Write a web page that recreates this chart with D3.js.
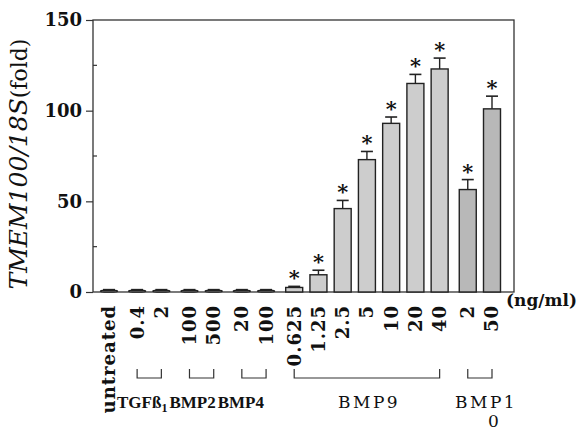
<!DOCTYPE html>
<html>
<head>
<meta charset="utf-8">
<title>TMEM100 fold</title>
<script src="https://d3js.org/d3.v7.min.js"></script>
<style>
  body { margin: 0; background: #fff; }
  text { font-family: "DejaVu Serif", serif; fill: #111; }
  text.grp { font-family: "Liberation Serif", serif; font-weight: bold; font-size: 17px; }
</style>
</head>
<body>
<script>
var w = 583, h = 438;

// data
var doses = ["untreated", "0.4", "2", "100", "500", "20", "100", "0.625", "1.25", "2.5", "5", "10", "20", "40", "2", "50"];
var groupOf = [0, 1, 1, 2, 2, 3, 3, 4, 4, 4, 4, 4, 4, 4, 5, 5];
var values = [1, 1, 1, 1, 1, 1, 1, 2.5, 9.5, 46, 73, 93, 115, 123, 56.5, 101];
var errors = [0.3, 0.3, 0.3, 0.3, 0.3, 0.3, 0.3, 0.6, 2.5, 4.5, 4.5, 3.5, 5, 6, 5.5, 7];
var signif = [0, 0, 0, 0, 0, 0, 0, 1, 1, 1, 1, 1, 1, 1, 1, 1];
var groups = [
  {name: "TGF\u00df", sub: "1", first: 1, last: 2},
  {name: "BMP2", first: 3, last: 4},
  {name: "BMP4", first: 5, last: 6},
  {name: "BMP9", first: 7, last: 13},
  {name: "BMP1", line2: "0", first: 14, last: 15}
];
var majorTicks = [0, 50, 100, 150];
var minorTicks = [25, 75, 125];

var svg = d3.select("body").append("svg")
  .attr("width", w)
  .attr("height", h);

var axLeft = 93, axRight = 514, axTop = 20, axBottom = 292;
var gap = 0.16;

var slot = function(i) { return i + groupOf[i] * gap; };
var xScale = d3.scaleLinear()
  .domain([0, slot(doses.length - 1)])
  .range([109, 492]);
var yScale = d3.scaleLinear()
  .domain([0, 150])
  .range([axBottom, axTop]);

var barW = 17;

// frame
svg.append("rect")
  .attr("x", axLeft).attr("y", axTop)
  .attr("width", axRight - axLeft).attr("height", axBottom - axTop)
  .attr("fill", "none").attr("stroke", "#333").attr("stroke-width", 1.3);

// y axis major ticks (outside)
var yAxis = d3.axisLeft(yScale)
  .tickValues(majorTicks)
  .tickSize(7)
  .tickPadding(4);
var yg = svg.append("g")
  .attr("transform", "translate(" + axLeft + ",0)")
  .call(yAxis);
yg.select(".domain").remove();
yg.selectAll("line").attr("stroke", "#333").attr("stroke-width", 1.2);
yg.selectAll("text")
  .attr("font-family", "DejaVu Serif")
  .attr("font-size", 18)
  .attr("font-weight", "bold")
  .attr("fill", "#111");

// minor ticks (inside)
svg.selectAll(".minor")
  .data(minorTicks)
  .enter()
  .append("line")
  .attr("x1", axLeft).attr("x2", axLeft + 4)
  .attr("y1", function(d) { return yScale(d); })
  .attr("y2", function(d) { return yScale(d); })
  .attr("stroke", "#333").attr("stroke-width", 1.2);

// bars
svg.selectAll(".bar")
  .data(values)
  .enter()
  .append("rect")
  .attr("x", function(d, i) { return xScale(slot(i)) - barW / 2; })
  .attr("y", function(d) { return yScale(d); })
  .attr("width", barW)
  .attr("height", function(d) { return axBottom - yScale(d); })
  .attr("rx", function(d) { return d < 2 ? 4 : 0; })
  .attr("fill", function(d, i) { return groupOf[i] == 5 ? "#b8b8b8" : "#cdcdcd"; })
  .attr("stroke", "#222")
  .attr("stroke-width", 1.4);

// error bars
values.forEach(function(v, i) {
  var cx = xScale(slot(i));
  var top = yScale(v + errors[i]);
  svg.append("line")
    .attr("x1", cx).attr("x2", cx)
    .attr("y1", yScale(v)).attr("y2", top)
    .attr("stroke", "#222").attr("stroke-width", 1.4);
  svg.append("line")
    .attr("x1", cx - 6).attr("x2", cx + 6)
    .attr("y1", top).attr("y2", top)
    .attr("stroke", "#222").attr("stroke-width", 1.6);
  if (signif[i]) {
    svg.append("text")
      .attr("x", cx).attr("y", top - 1)
      .attr("text-anchor", "middle")
      .attr("font-family", "DejaVu Sans")
      .attr("font-weight", "bold")
      .attr("font-size", 21)
      .text("*");
  }
});

// dose labels, rotated
svg.selectAll(".dose")
  .data(doses)
  .enter()
  .append("text")
  .attr("transform", function(d, i) {
    return "translate(" + xScale(slot(i)) + ",305) rotate(-90)";
  })
  .attr("dy", "0.36em")
  .attr("text-anchor", "end")
  .attr("font-size", 18)
  .attr("font-weight", "bold")
  .attr("letter-spacing", 1)
  .text(function(d) { return d; });

svg.append("text")
  .attr("x", 506).attr("y", 306)
  .attr("font-size", 17)
  .attr("font-weight", "bold")
  .text("(ng/ml)");

// group brackets and names
groups.forEach(function(g) {
  var x1 = xScale(slot(g.first)), x2 = xScale(slot(g.last));
  svg.append("path")
    .attr("d", "M" + x1 + ",369V378H" + x2 + "V369")
    .attr("fill", "none").attr("stroke", "#333").attr("stroke-width", 1.2);
});

// TGFb1, BMP2, BMP4 packed tightly one after the other, as in the figure
var nx = 117;
var t1 = svg.append("text").attr("class", "grp").attr("x", nx).attr("y", 408);
t1.append("tspan").text(groups[0].name);
t1.append("tspan").attr("font-size", 12).attr("dy", 4).text(groups[0].sub);
nx += t1.node().getComputedTextLength() + 2;
var t2 = svg.append("text").attr("class", "grp").attr("x", nx).attr("y", 408).text(groups[1].name);
nx += t2.node().getComputedTextLength() + 2;
svg.append("text").attr("class", "grp").attr("x", nx).attr("y", 408).text(groups[2].name);

var plain = svg.append("g").attr("font-size", 17).attr("letter-spacing", 2.5);
plain.append("text").attr("x", 338).attr("y", 408).text(groups[3].name);
plain.append("text").attr("x", 455).attr("y", 408).text(groups[4].name);
plain.append("text").attr("x", 488).attr("y", 427).text(groups[4].line2);

// y axis title
var yt = svg.append("text")
  .attr("transform", "translate(27,164) rotate(-90)")
  .attr("text-anchor", "middle");
yt.append("tspan").attr("font-style", "italic").attr("font-size", 25).text("TMEM100/18S");
yt.append("tspan").attr("font-size", 22).text("(fold)");
</script>
</body>
</html>
